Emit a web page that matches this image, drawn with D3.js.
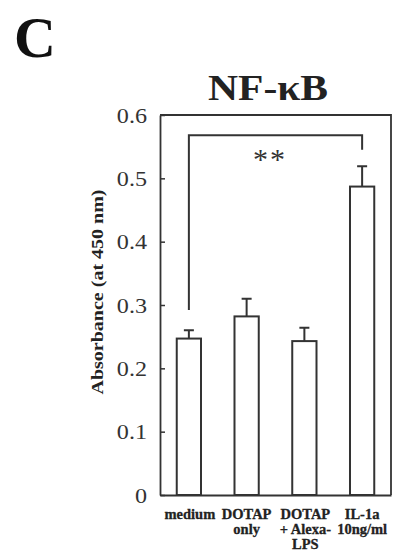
<!DOCTYPE html>
<html><head><meta charset="utf-8">
<script src="https://cdn.jsdelivr.net/npm/d3@7"></script>
<style>body{margin:0;background:#fff}svg{display:block}</style>
</head><body>
<script>
const categories = ["medium", "DOTAP only", "DOTAP + Alexa-LPS", "IL-1a 10ng/ml"];
const categoryLines = [["medium"], ["DOTAP", "only"], ["DOTAP", "+ Alexa-", "LPS"], ["IL-1a", "10ng/ml"]];
const values = [0.247, 0.282, 0.243, 0.487];
const errors = [0.013, 0.028, 0.021, 0.032];
const yTicks = [0, 0.1, 0.2, 0.3, 0.4, 0.5, 0.6];
const yTickLabels = ["0", "0.1", "0.2", "0.3", "0.4", "0.5", "0.6"];
const sigPair = [0, 3];
const sigBracket = [0.292, 0.568, 0.545]; // left leg end, top, right leg end
const sigLabel = "**";

const W = 393, H = 553;
const m = {left: 160, right: 2, top: 115, bottom: 58};
const ink = "#333";
const serif = "'Liberation Serif','Times New Roman',Times,serif";

const svg = d3.select("body").append("svg").attr("width", W).attr("height", H);

const x = d3.scaleBand().domain(categories).range([m.left, W - m.right])
  .paddingInner(0.58).paddingOuter(0.29);
const y = d3.scaleLinear().domain([0, 0.6]).range([H - m.bottom, m.top]);

// panel letter
svg.append("text").attr("x", 14).attr("y", 57).attr("font-family", serif)
  .attr("font-weight", "bold").attr("font-size", 58).attr("fill", "#111").text("C");

// title
svg.append("text").attr("x", 268).attr("y", 100).attr("text-anchor", "middle")
  .attr("font-family", serif).attr("font-weight", "bold").attr("font-size", 35)
  .attr("fill", "#222").attr("textLength", 120).attr("lengthAdjust", "spacingAndGlyphs")
  .text("NF-κB");

// frame (top and right)
svg.append("path").attr("fill", "none").attr("stroke", ink).attr("stroke-width", 1.8)
  .attr("d", `M${m.left},${y(0.6)}H${W - m.right}V${y(0)}`);

// y axis
const yAxis = d3.axisLeft(y).tickValues(yTicks).tickFormat((d, i) => yTickLabels[i])
  .tickSizeInner(-5).tickSizeOuter(0).tickPadding(13);
const gy = svg.append("g").attr("transform", `translate(${m.left},0)`).call(yAxis);
gy.select(".domain").attr("stroke", ink).attr("stroke-width", 1.8);
gy.selectAll(".tick line").attr("stroke", ink).attr("stroke-width", 1.5);
gy.selectAll(".tick text").attr("font-family", serif).attr("font-size", 21)
  .attr("fill", "#333").attr("dy", "0.34em")
  .attr("transform", "scale(1.15,1)").attr("x", -13 / 1.15);

// x axis baseline
const xAxis = d3.axisBottom(x).tickSize(0).tickFormat("");
const gx = svg.append("g").attr("transform", `translate(0,${y(0)})`).call(xAxis);
gx.select(".domain").attr("stroke", ink).attr("stroke-width", 1.8);

// x labels
categories.forEach((c, i) => {
  const cx = x(c) + x.bandwidth() / 2;
  const offs = [1, 0, 1, 0][i];
  categoryLines[i].forEach((t, j) => {
    svg.append("text").attr("x", cx + offs).attr("y", 519 + j * 15)
      .attr("text-anchor", "middle").attr("font-family", serif).attr("font-weight", "bold")
      .attr("font-size", 14.5).attr("fill", "#222").attr("stroke", "#222").attr("stroke-width", 0.3)
      .text(t);
  });
});

// bars
svg.append("g").selectAll("rect").data(values).join("rect")
  .attr("x", (d, i) => x(categories[i]))
  .attr("width", x.bandwidth())
  .attr("y", d => y(d))
  .attr("height", d => y(0) - y(d))
  .attr("fill", "#fff").attr("stroke", ink).attr("stroke-width", 2);

// error bars
const eg = svg.append("g").attr("stroke", ink).attr("stroke-width", 2).attr("fill", "none");
values.forEach((v, i) => {
  const cx = x(categories[i]) + x.bandwidth() / 2;
  eg.append("path").attr("d", `M${cx},${y(v)}V${y(v + errors[i])}M${cx - 5},${y(v + errors[i])}H${cx + 5}`);
});

// significance bracket
const bx1 = x(categories[sigPair[0]]) + x.bandwidth() / 2;
const bx2 = x(categories[sigPair[1]]) + x.bandwidth() / 2;
svg.append("path").attr("fill", "none").attr("stroke", ink).attr("stroke-width", 2)
  .attr("d", `M${bx1},${y(sigBracket[0])}V${y(sigBracket[1])}H${bx2}V${y(sigBracket[2])}`);
svg.append("text").attr("x", 270).attr("y", 169).attr("text-anchor", "middle")
  .attr("font-family", serif).attr("font-size", 30).attr("fill", "#333")
  .attr("letter-spacing", 2).text(sigLabel);

// y label
svg.append("text").attr("transform", "translate(103,292) rotate(-90)")
  .attr("text-anchor", "middle").attr("font-family", serif).attr("font-weight", "bold")
  .attr("font-size", 16).attr("fill", "#222")
  .attr("textLength", 205).attr("lengthAdjust", "spacingAndGlyphs")
  .text("Absorbance (at 450 nm)");
</script>
</body></html>
